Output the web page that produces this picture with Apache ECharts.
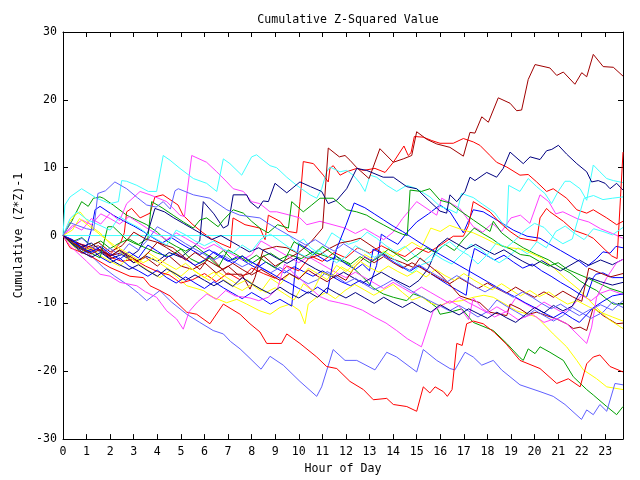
<!DOCTYPE html>
<html>
<head>
<meta charset="utf-8">
<script src="https://cdn.jsdelivr.net/npm/echarts@6/dist/echarts.min.js"></script>
<style>html,body{margin:0;padding:0;background:#fff}#c{width:640px;height:480px}</style>
</head>
<body>
<div id="c"></div>
<script>
// ---- data: [hour, cumulative (Z*Z)-1] ----
var xTickLabels = ['0','1','2','3','4','5','6','7','8','9','10','11','12','13','14','15','16','17','18','19','20','21','22','23'];
var yTickLabels = ['-30','-20','-10','0','10','20','30'];

var red1 = [[0,0],[0.5,-1],[1,-1.5],[1.5,-2.2],[2,-2.8],[2.45,-1],[2.6,0.4],[2.7,3.5],[2.91,4.0],[3.27,2.6],[3.69,3.3],[3.9,5.7],[4.24,6.0],[4.88,4.5],[5.09,3.0],[5.51,1.6],[5.9,0.5],[6.3,-0.5],[6.7,-1.2],[7.1,-1.8],[7.21,2.6],[7.72,1.6],[8.35,1.1],[8.57,-0.6],[8.71,3.0],[9.2,2.1],[9.55,0.6],[9.91,0.4],[10.05,5.0],[10.19,10.9],[10.62,10.6],[11.04,8.9],[11.25,7.9],[11.32,9.9],[11.46,10.3],[11.75,8.9],[12.03,9.4],[12.46,9.9],[12.74,9.6],[13.23,9.9],[13.66,9.3],[14.01,10.8],[14.46,13.2],[14.64,11.8],[14.76,12.2],[14.9,14.6],[15.28,14.5],[15.64,14.0],[15.99,13.6],[16.55,13.6],[16.98,14.3],[17.4,13.8],[17.68,13.3],[18.11,11.8],[18.39,10.8],[18.82,10.1],[19.38,8.9],[19.73,9.0],[20.09,7.9],[20.51,6.5],[20.79,6.9],[21.36,5.5],[21.79,3.8],[22.21,3.3],[22.49,3.8],[23.06,2.6],[23.48,1.6],[23.75,2.1]];
var red2 = [[0,0],[0.5,-1.3],[1,-2.2],[1.5,-2],[2,-3.2],[2.5,-3.8],[3,-3.5],[3.5,-4.5],[4,-5.3],[4.5,-5.8],[5,-7],[5.5,-6.5],[6,-5.6],[6.5,-6.8],[7,-5.5],[7.5,-6.5],[8,-4.8],[8.5,-5.6],[9,-6.3],[9.5,-4.5],[10,-5.2],[10.5,-3],[11,-3.8],[11.5,-2.5],[12,-3.3],[12.5,-1.8],[13,-2.6],[13.5,-1.5],[14,-2.4],[14.5,-3.1],[15,-1.8],[15.5,-2.5],[16.06,-1.3],[16.55,-0.1],[16.98,-0.1],[17.2,1.5],[17.4,5.0],[18.11,3.5],[18.5,2.0],[18.96,0.6],[19.38,-0.4],[20.09,-0.8],[20.23,2.6],[20.51,4.0],[20.65,3.5],[21.22,2.1],[21.64,0.8],[22.21,0.1],[22.49,-0.4],[22.99,-2.1],[23.27,-3.0],[23.5,-3.4],[23.75,12.3]];
var red3 = [[0,0],[0.3,-1.8],[1.15,-3.0],[1.99,-4.7],[2.84,-6.0],[3.41,-6.2],[3.69,-7.4],[4.11,-8.1],[4.54,-8.9],[5.25,-11.3],[5.67,-11.6],[6.23,-13.0],[6.8,-10.1],[7.51,-11.6],[7.93,-13.0],[8.35,-14.2],[8.64,-15.9],[9.27,-15.9],[9.49,-14.5],[10.05,-15.9],[10.76,-17.9],[11.18,-19.3],[11.61,-19.6],[12.17,-21.5],[12.74,-22.7],[13.16,-24.2],[13.73,-24.0],[14.01,-24.9],[14.58,-25.2],[15.0,-25.9],[15.28,-22.3],[15.56,-23.2],[15.78,-22.3],[16.13,-23.0],[16.3,-23.7],[16.5,-22.7],[16.7,-15.9],[16.93,-16.2],[17.12,-13.0],[17.4,-12.6],[17.82,-13.0],[18.3,-14.3],[18.8,-16.0],[19.38,-18.4],[20.23,-19.6],[20.94,-21.8],[21.43,-21.1],[21.93,-22.3],[22.21,-18.9],[22.49,-17.9],[22.77,-17.6],[23.2,-19.3],[23.75,-20.1]];

var green1 = [[0,0],[0.37,2.1],[0.79,5.0],[1.07,4.3],[1.29,5.5],[1.57,5.7],[1.71,5.5],[2.13,4.5],[2.7,3.0],[3.55,1.6],[4.0,0.5],[4.4,-0.8],[4.8,-1.6],[5.2,-2.3],[5.6,-1.5],[6.0,-2.6],[6.4,-3.4],[6.8,-2.2],[7.2,-3.6],[7.6,-3.0],[8.0,-4.1],[8.4,-3.2],[8.8,-2.6],[9.2,-3.5],[9.6,-2.8],[10.1,-3.4],[10.6,-2.4],[11.1,-3.0],[11.6,-3.5],[12.17,-4.3],[12.74,-6.2],[13.15,-7.7],[13.58,-8.6],[14.01,-9.1],[14.58,-9.6],[14.86,-8.6],[15.28,-9.1],[15.85,-10.6],[15.99,-11.6],[16.41,-11.3],[16.91,-10.8],[17.4,-12.8],[18.25,-14.0],[18.82,-15.9],[19.38,-18.0],[19.52,-18.4],[19.73,-16.7],[20.02,-17.4],[20.23,-16.4],[20.65,-17.2],[21.22,-18.4],[21.64,-20.8],[22.21,-22.7],[22.49,-23.5],[23.06,-25.2],[23.48,-26.4],[23.75,-25.2]];
var green2 = [[0,0],[0.4,-0.9],[0.8,-0.3],[1.2,-1.5],[1.6,-0.8],[2.0,-1.9],[2.4,-1.1],[2.8,-0.5],[3.2,-1.3],[3.6,-0.4],[3.76,5.0],[4.2,4.1],[4.67,3.0],[5.1,2.0],[5.53,1.1],[5.81,2.3],[6.09,2.6],[6.58,1.3],[6.8,2.3],[7.22,3.8],[7.65,3.3],[8.0,2.1],[8.35,1.1],[8.7,0.4],[9.1,1.6],[9.56,1.1],[9.7,5.0],[10.19,3.5],[10.55,4.5],[10.9,5.5],[11.46,5.5],[12.03,3.8],[12.45,3.5],[12.88,3.0],[13.2,2.3],[13.58,1.6],[14.0,0.8],[14.4,0.2],[14.6,0.0],[14.72,6.7],[15.2,6.5],[15.56,6.9],[15.99,5.2],[16.41,4.8],[16.7,4.0],[17.4,2.3],[18.11,0.6],[18.25,2.1],[18.6,0.4],[19.05,-0.8],[19.52,-1.8],[20.09,-2.8],[20.6,-3.6],[21.08,-4.7],[21.5,-5.5],[21.93,-6.7],[22.3,-7.5],[22.63,-8.1],[23.0,-9.2],[23.34,-10.1],[23.75,-10.1]];
var green3 = [[0,0],[0.4,-1.2],[0.8,-1.9],[1.2,-2.6],[1.57,-3.3],[1.9,1.3],[2.13,1.3],[2.7,-0.6],[3.0,-1.1],[3.5,-1.8],[4.0,-2.6],[4.5,-3.1],[5.0,-2.0],[5.4,-3.4],[5.8,-4.1],[6.2,-3.3],[6.6,-4.6],[7.0,-2.1],[7.4,-2.9],[7.8,-3.8],[8.2,-2.9],[8.6,-3.9],[9.0,-4.8],[9.4,-3.6],[9.8,-0.9],[10.2,-1.8],[10.6,-2.9],[11.0,-1.6],[11.4,-2.6],[11.8,-3.5],[12.2,-4.2],[12.6,-3.1],[13.0,-4.0],[13.4,-3.2],[13.8,-2.0],[14.2,-2.9],[14.6,-3.8],[15.0,-2.9],[15.4,-1.8],[15.8,-2.5],[16.2,-1.3],[16.6,-2.2],[17.0,-0.5],[17.44,1.1],[17.8,0.3],[18.2,-0.5],[18.6,-1.5],[19.0,-2.0],[19.4,-2.8],[19.8,-3.0],[20.2,-3.8],[20.6,-4.5],[21.0,-4.0],[21.4,-5.0],[21.8,-5.6],[22.2,-6.2],[22.7,-7.0],[23.2,-7.8],[23.75,-8.4]];

var blue1 = [[0,0],[0.5,-1.0],[1.0,-1.6],[1.2,0.8],[1.36,3.8],[1.57,4.3],[2.13,3.0],[2.6,2.1],[3.0,1.4],[3.4,0.6],[3.8,-0.3],[4.2,-1.1],[4.6,-0.3],[5.0,-1.2],[5.4,-2.0],[5.8,-2.8],[6.2,-2.1],[6.6,-3.0],[7.0,-3.8],[7.4,-3.1],[7.8,-4.0],[8.2,-4.8],[8.6,-3.9],[9.0,-4.7],[9.4,-5.5],[9.8,-4.6],[10.2,-5.3],[10.6,-6.0],[11.0,-5.2],[11.4,-6.0],[11.8,-6.8],[12.2,-7.4],[12.6,-6.6],[13.0,-7.4],[13.3,-4.4],[13.5,0.2],[13.8,-0.5],[14.2,-1.3],[14.6,0.5],[15.0,2.0],[15.5,3.2],[15.99,4.5],[16.41,3.5],[16.98,0.4],[17.4,3.8],[17.82,3.5],[18.25,2.6],[19.1,0.8],[19.68,-0.1],[20.23,-0.4],[20.65,-1.3],[21.1,-2.2],[21.5,-3.0],[21.9,-3.8],[22.2,-4.6],[22.6,-3.5],[22.9,-2.4],[23.2,-2.6],[23.45,-1.6],[23.75,-1.8]];
var blue2 = [[0,0],[0.4,-1.4],[0.8,-2.6],[1.2,-2.0],[1.6,-3.2],[2.0,-4.0],[2.4,-3.3],[2.8,-4.5],[3.2,-5.2],[3.6,-6.0],[4.0,-5.1],[4.4,-6.2],[4.8,-7.0],[5.2,-6.1],[5.6,-7.0],[6.0,-7.8],[6.4,-6.8],[6.8,-7.7],[7.2,-8.5],[7.6,-9.3],[8.0,-8.4],[8.4,-9.2],[8.8,-10.1],[9.2,-9.4],[9.7,-10.4],[9.85,-5.0],[10.0,-1.2],[10.4,-2.0],[10.8,-3.0],[11.2,-3.8],[11.6,-3.1],[12.0,-4.2],[12.4,-5.0],[12.7,-4.2],[13.0,-5.2],[13.15,-2.0],[13.5,-2.6],[13.9,-3.6],[14.3,-4.5],[14.7,-5.3],[15.1,-4.4],[15.5,-5.4],[15.9,-6.3],[16.3,-7.2],[16.7,-8.0],[17.1,-8.8],[17.25,-4.8],[17.45,-1.9],[17.9,-2.8],[18.3,-3.6],[18.7,-2.9],[19.1,-3.9],[19.5,-4.8],[19.9,-4.2],[20.3,-5.2],[20.7,-6.0],[21.1,-6.9],[21.5,-7.7],[21.9,-8.6],[22.2,-9.1],[22.49,-6.2],[22.6,-5.7],[22.9,-5.5],[23.3,-6.2],[23.75,-6.2]];
var blue3 = [[0,0],[0.4,-0.6],[0.8,-1.8],[1.2,-2.5],[1.6,-1.6],[2.0,-2.7],[2.4,-3.5],[2.8,-2.4],[3.2,-3.3],[3.6,-1.4],[4.0,-2.3],[4.4,-3.2],[4.8,-2.6],[5.2,-3.5],[5.6,-4.4],[6.0,-3.6],[6.4,-2.4],[6.8,-3.2],[7.2,-4.1],[7.6,-3.0],[8.0,-3.9],[8.4,-4.7],[8.8,-5.5],[9.2,-6.3],[9.6,-7.0],[10.0,-7.8],[10.4,-8.5],[10.8,-7.6],[11.2,-8.5],[11.45,-4.0],[11.6,-2.0],[12.0,1.5],[12.35,4.8],[12.8,4.1],[13.2,3.2],[13.6,2.3],[14.0,1.4],[14.4,0.6],[14.8,-0.3],[15.2,-1.2],[15.6,-2.0],[16.0,-2.8],[16.4,-3.6],[16.8,-4.4],[17.2,-5.2],[17.6,-6.0],[18.0,-6.8],[18.4,-7.6],[18.8,-8.4],[19.2,-9.1],[19.6,-9.9],[20.0,-10.6],[20.4,-11.4],[20.8,-12.1],[21.2,-11.3],[21.6,-12.2],[21.9,-12.8],[22.2,-11.7],[22.5,-10.6],[22.9,-9.7],[23.3,-8.9],[23.75,-8.6]];

var magenta1 = [[0,0],[0.4,1.5],[0.8,0.8],[1.2,2.5],[1.6,1.7],[2.0,3.3],[2.4,2.2],[2.7,4.7],[3.27,6.5],[3.69,6.0],[4.4,5.0],[4.96,3.0],[5.15,2.8],[5.25,6.0],[5.46,11.8],[6.09,10.8],[6.52,9.4],[6.95,7.9],[7.22,6.9],[7.65,6.5],[8.0,5.0],[8.35,4.7],[8.78,3.5],[9.06,3.5],[9.63,3.0],[10.05,2.6],[10.34,1.6],[10.9,2.1],[11.96,1.1],[12.4,0.3],[12.8,1.0],[13.2,0.2],[13.6,-0.6],[14.0,0.5],[14.4,2.5],[15.0,5.0],[15.85,3.0],[16.06,5.5],[16.83,4.0],[17.4,1.3],[17.8,0.5],[18.2,1.8],[18.6,0.6],[19.0,2.6],[19.4,3.0],[19.8,1.8],[20.23,6.0],[20.6,5.0],[20.9,3.2],[21.2,3.5],[21.8,2.5],[22.3,2.0],[22.8,1.0],[23.3,0.3],[23.75,-0.4]];
var magenta2 = [[0,0],[0.4,1.2],[0.8,2.3],[1.2,1.6],[1.6,3.2],[2.0,2.5],[2.4,1.7],[2.8,2.8],[3.2,1.9],[3.6,1.0],[4.0,0.2],[4.4,-0.6],[4.8,0.4],[5.2,-0.4],[5.6,-1.2],[6.0,-2.0],[6.4,-1.3],[6.8,-2.1],[7.2,-2.8],[7.6,-3.6],[8.0,-2.8],[8.4,-0.8],[8.8,-1.6],[9.2,-2.4],[9.6,-3.2],[10.0,-4.0],[10.4,-3.1],[10.8,-3.9],[11.2,-4.7],[11.6,-5.5],[12.0,-6.2],[12.4,-5.4],[12.8,-6.2],[13.2,-7.0],[13.6,-7.8],[14.0,-6.9],[14.4,-7.7],[14.8,-8.5],[15.2,-7.6],[15.6,-8.4],[16.0,-9.2],[16.4,-10.0],[16.8,-9.1],[17.2,-9.9],[17.6,-10.6],[18.0,-11.4],[18.4,-10.5],[18.8,-11.3],[19.2,-9.2],[19.6,-10.0],[20.0,-10.8],[20.4,-9.8],[20.8,-10.6],[21.2,-11.4],[21.6,-10.4],[22.0,-8.8],[22.4,-9.6],[22.8,-8.5],[23.2,-8.0],[23.75,-8.7]];
var magenta3 = [[0,0],[0.3,-1.5],[0.6,-2.5],[1.0,-3.8],[1.57,-5.7],[2.0,-6.0],[2.42,-6.9],[3.13,-7.4],[3.5,-8.3],[3.97,-9.1],[4.4,-11.1],[4.82,-12.3],[5.1,-13.8],[5.35,-11.2],[5.7,-9.8],[6.1,-8.6],[6.5,-9.4],[6.9,-8.1],[7.3,-8.9],[7.93,-9.2],[8.3,-9.6],[8.7,-9.1],[9.1,-7.8],[9.4,-4.2],[9.7,-5.3],[10.1,-6.5],[10.5,-7.8],[10.9,-9.0],[11.3,-9.6],[11.7,-9.9],[12.17,-10.3],[12.7,-11.0],[13.2,-12.0],[13.7,-12.9],[14.15,-14.0],[14.6,-15.2],[15.0,-16.0],[15.2,-16.4],[15.7,-11.1],[16.41,-9.6],[16.8,-10.4],[17.2,-12.4],[17.4,-9.2],[17.8,-10.8],[18.3,-12.0],[18.8,-11.2],[19.3,-12.4],[19.9,-11.6],[20.4,-12.8],[20.9,-12.2],[21.36,-13.0],[21.8,-14.5],[22.21,-15.9],[22.42,-13.5],[22.63,-9.1],[23.06,-6.2],[23.48,-4.0],[23.75,-3.5]];

var cyan1 = [[0,0],[0.08,4.5],[0.3,5.7],[0.79,6.9],[1.43,5.5],[1.99,4.7],[2.35,5.0],[2.49,8.1],[2.7,8.0],[3.13,7.4],[3.62,6.5],[3.97,6.5],[4.25,11.8],[4.54,11.1],[4.96,9.9],[5.53,8.4],[6.09,7.7],[6.52,6.5],[6.8,11.3],[7.08,10.6],[7.58,8.9],[8.0,11.6],[8.21,11.9],[8.49,11.1],[8.78,10.3],[9.06,10.0],[9.49,8.6],[9.91,7.4],[10.48,6.0],[10.76,5.5],[10.97,6.9],[11.18,9.4],[11.32,10.1],[11.75,9.4],[12.03,9.6],[12.31,8.9],[12.6,7.7],[12.81,6.5],[13.02,8.9],[13.3,8.6],[13.73,7.4],[14.15,6.5],[14.58,7.4],[15.0,6.9],[15.56,5.7],[15.99,4.3],[16.41,3.8],[16.7,3.3],[16.9,6.2],[17.4,5.6],[17.8,4.6],[18.3,3.4],[18.6,2.0],[18.82,1.1],[18.9,7.4],[19.38,6.5],[19.73,8.4],[20.09,7.2],[20.44,6.2],[20.72,4.7],[21.0,6.5],[21.29,8.0],[21.5,8.0],[21.93,6.9],[22.21,5.2],[22.49,10.4],[22.77,9.4],[23.06,8.4],[23.34,8.1],[23.75,7.8]];
var cyan2 = [[0,0],[9.6,0],[9.9,-1.2],[10.2,-0.5],[10.5,-1.8],[10.8,-2.5],[11.1,-1.5],[11.4,0.4],[11.7,-0.3],[12.1,-1.3],[12.5,-0.8],[12.9,0.5],[13.3,-0.4],[13.7,-1.5],[14.1,-2.4],[14.5,-1.6],[14.9,-2.9],[15.3,-3.8],[15.7,-2.6],[16.1,-3.5],[16.5,-4.2],[16.9,-2.8],[17.3,-1.3],[17.7,-2.0],[18.1,-3.2],[18.5,-4.0],[18.9,-3.1],[19.3,-1.8],[19.7,-2.7],[20.1,-0.9],[20.5,-1.8],[20.9,0.6],[21.3,1.4],[21.7,0.3],[22.1,-0.6],[22.5,1.0],[22.9,0.6],[23.3,0.1],[23.75,1.2]];
var cyan3 = [[0,0],[0.3,2.5],[0.6,3.5],[1,2.4],[1.5,1.6],[2,0.8],[2.4,2.8],[2.8,1.9],[3.2,1.2],[3.6,0.2],[4.0,-0.6],[4.4,-1.4],[4.8,0.8],[5.2,0.1],[5.6,-0.8],[6.0,-1.5],[6.4,-0.8],[6.8,-2.0],[7.2,-2.6],[7.6,-1.4],[8.0,-2.3],[8.4,-0.5],[8.8,0.2],[9.2,-0.8],[9.6,-1.8],[10.0,-2.6],[10.4,-3.3],[10.8,-2.1],[11.2,-3.0],[11.6,-4.0],[12.0,-3.1],[12.4,-1.5],[12.8,-2.3],[13.2,-3.2],[13.6,-2.5],[14.0,-3.4],[14.4,-4.5],[14.8,-5.5],[15.2,-4.3],[15.6,-3.8],[16.0,-1.8],[16.4,-0.9],[16.8,-2.1],[17.2,-2.9],[17.6,-4.2],[18.0,-2.8],[18.4,-1.0],[18.8,-1.8],[19.2,-0.6],[19.6,0.8],[20.0,1.8],[20.4,1.2],[20.8,-0.3],[21.2,-1.2],[21.6,-0.5],[22.1,5.5],[22.5,5.9],[22.9,5.3],[23.3,5.5],[23.75,5.7]];

var darkred1 = [[0,0],[0.5,-1.2],[1,-2],[1.5,-1.5],[2,-3],[2.5,-2.5],[3,-4],[3.5,-3.2],[4,-4.5],[4.5,-3],[5,-4.5],[5.5,-5],[6,-4],[6.5,-5.5],[7,-4.5],[7.5,-6],[8,-5.5],[8.5,-3],[9,-4.5],[9.5,-3.5],[10,-2.5],[10.5,-1],[11.01,1.1],[11.25,12.9],[11.72,11.6],[11.96,11.8],[12.17,11.1],[12.46,10.0],[12.98,8.4],[13.44,12.8],[14.01,10.8],[14.43,11.3],[14.79,11.8],[15.0,15.3],[15.42,14.2],[15.85,13.5],[16.41,13.0],[16.98,11.7],[17.26,15.2],[17.47,15.1],[17.76,17.5],[18.04,16.7],[18.46,20.3],[18.96,19.5],[19.24,18.4],[19.45,18.5],[19.73,23.0],[20.02,25.2],[20.65,24.7],[20.94,23.6],[21.22,24.1],[21.71,22.3],[22.0,24.0],[22.21,23.4],[22.49,26.7],[22.91,24.9],[23.34,24.8],[23.75,23.5]];
var darkred2 = [[0,0],[0.5,-0.8],[1,-1.8],[1.5,-1],[2,-2.4],[2.5,-1.5],[3,0.5],[3.5,-0.5],[4,-1],[4.66,-1.8],[5.25,-3.5],[5.81,-5.0],[6.23,-3.0],[6.94,-5.7],[7.58,-5.7],[7.93,-7.9],[8.14,-6.2],[8.49,-2.1],[9.06,-1.6],[9.49,-1.8],[9.9,-2.5],[10.4,-3.4],[10.9,-2.8],[11.3,-1.9],[11.75,-1.1],[12.2,-0.8],[12.6,-0.4],[13.2,-1.8],[13.87,-3.3],[14.4,-4.0],[14.86,-4.7],[15.14,-3.3],[15.6,-4.6],[15.99,-5.7],[16.4,-7.2],[16.83,-8.9],[17.25,-9.4],[17.68,-9.9],[18.11,-11.3],[18.82,-11.8],[18.96,-10.1],[19.38,-10.8],[19.73,-11.6],[20.09,-11.3],[20.51,-11.8],[20.94,-12.3],[21.36,-13.0],[21.64,-13.7],[21.93,-13.5],[22.21,-14.0],[22.49,-10.6],[22.91,-11.8],[23.48,-13.0],[23.75,-12.9]];
var darkred3 = [[0,0],[0.4,-1.0],[0.8,-2.0],[1.2,-2.7],[1.6,-2.0],[2.0,-3.1],[2.4,-2.1],[2.8,-3.0],[3.2,-3.8],[3.6,-2.6],[4.0,-1.0],[4.4,-1.8],[4.8,-2.7],[5.2,-3.6],[5.6,-2.5],[6.0,-3.4],[6.4,-4.2],[6.8,-5.0],[7.2,-4.1],[7.6,-5.0],[8.0,-5.8],[8.4,-5.0],[8.8,-5.8],[9.2,-6.6],[9.6,-5.6],[10.0,-6.4],[10.4,-5.1],[10.8,-6.0],[11.2,-6.8],[11.6,-5.8],[12.0,-6.6],[12.4,-4.5],[12.8,-3.2],[13.2,-4.0],[13.6,-3.1],[14.0,-4.0],[14.4,-4.8],[14.8,-4.0],[15.2,-4.8],[15.6,-5.6],[16.0,-6.4],[16.4,-7.1],[16.8,-6.2],[17.2,-7.0],[17.6,-7.8],[18.0,-7.0],[18.4,-7.8],[18.8,-8.5],[19.2,-7.6],[19.6,-8.4],[20.0,-9.1],[20.4,-8.3],[20.8,-9.1],[21.2,-8.2],[21.6,-9.0],[22.0,-9.7],[22.3,-4.8],[22.7,-5.4],[23.2,-6.1],[23.75,-5.6]];

var yellow1 = [[0,0],[0.3,2.1],[0.51,3.0],[0.72,3.5],[1.0,2.3],[1.29,1.1],[1.57,0.4],[2.0,-1.2],[2.4,-2.4],[2.84,-3.3],[3.55,-5.0],[4.11,-6.2],[4.54,-5.2],[5.25,-7.4],[5.95,-8.1],[6.37,-9.1],[6.94,-9.9],[7.37,-9.4],[7.79,-10.1],[8.35,-11.1],[8.78,-11.6],[9.2,-10.6],[9.63,-10.1],[10.05,-11.1],[10.26,-13.0],[10.4,-10.1],[10.76,-9.1],[11.15,-8.4],[11.55,-9.3],[11.96,-8.1],[12.37,-7.2],[12.78,-8.0],[13.18,-8.8],[13.59,-8.0],[14.0,-7.2],[14.4,-8.4],[14.8,-9.5],[15.2,-9.0],[15.6,-10.0],[15.99,-10.3],[16.4,-9.8],[16.9,-9.6],[17.4,-9.1],[17.85,-8.8],[18.25,-9.1],[19.24,-11.1],[20.09,-12.0],[20.79,-14.5],[21.36,-16.4],[21.79,-18.4],[22.07,-19.8],[22.63,-21.1],[23.06,-22.3],[23.75,-22.7]];
var yellow2 = [[0,0],[0.4,-1.5],[0.8,-2.4],[1.2,-1.8],[1.6,-3.0],[2.0,-3.8],[2.4,-4.5],[2.8,-3.2],[3.2,-4.1],[3.6,-2.5],[4.0,-3.4],[4.4,-4.2],[4.8,-5.0],[5.2,-4.1],[5.6,-5.3],[6.0,-6.2],[6.4,-5.4],[6.8,-6.5],[7.2,-7.4],[7.6,-8.1],[8.0,-7.2],[8.4,-8.2],[8.8,-6.3],[9.2,-7.2],[9.6,-5.6],[10.0,-6.5],[10.4,-4.8],[10.8,-5.6],[11.2,-6.5],[11.6,-4.4],[12.0,-5.3],[12.4,-4.1],[12.8,-2.8],[13.2,-3.6],[13.6,-2.3],[14.0,-3.1],[14.4,-2.0],[14.8,-1.0],[15.2,-1.8],[15.6,1.1],[16.0,0.6],[16.4,1.5],[16.9,0.9],[17.4,0.4],[17.9,-0.4],[18.4,-1.3],[18.95,-1.8],[19.45,-2.0],[19.85,-2.6],[20.3,-3.3],[20.79,-4.7],[21.3,-6.3],[21.93,-8.1],[22.3,-9.5],[22.77,-11.1],[23.2,-12.5],[23.75,-13.7]];
var yellow3 = [[0,0],[0.4,0.8],[0.7,2.5],[1.0,1.7],[1.4,0.6],[1.8,-0.5],[2.2,-1.5],[2.6,-2.3],[3.0,-3.2],[3.4,-4.0],[3.8,-3.3],[4.2,-4.3],[4.6,-5.2],[5.0,-6.0],[5.4,-4.8],[5.8,-5.7],[6.2,-6.6],[6.6,-5.4],[7.0,-6.3],[7.4,-7.2],[7.8,-6.5],[8.2,-7.5],[8.6,-8.4],[9.0,-7.7],[9.4,-8.6],[9.8,-9.5],[10.2,-7.1],[10.6,-8.2],[11.0,-5.4],[11.4,-6.0],[11.8,-4.6],[12.2,-5.4],[12.6,-3.8],[13.0,-4.7],[13.4,-5.4],[13.8,-4.5],[14.2,-5.3],[14.6,-6.0],[15.0,-5.2],[15.4,-6.1],[15.8,-5.0],[16.2,-5.9],[16.6,-6.6],[17.0,-5.6],[17.4,-6.5],[17.8,-7.3],[18.2,-8.0],[18.6,-7.1],[19.0,-8.0],[19.4,-8.9],[19.8,-8.1],[20.2,-9.0],[20.6,-8.3],[21.0,-9.3],[21.4,-10.1],[21.8,-9.6],[22.3,-10.5],[22.8,-11.3],[23.3,-12.0],[23.75,-12.6]];

var navy1 = [[0,0],[0.5,-1.5],[1,-2.5],[1.5,-2],[2,-3.4],[2.5,-2.8],[3,-4],[3.5,-3],[4,-3.8],[4.5,-2.5],[5,-3.2],[5.5,-1.8],[5.8,-0.8],[5.95,5.0],[6.4,3.2],[6.8,1.1],[7.0,1.5],[7.22,6.0],[7.79,6.0],[7.93,5.0],[8.28,4.0],[8.49,5.1],[8.71,5.0],[8.99,7.7],[9.49,6.3],[10.05,7.9],[10.5,7.2],[10.97,6.5],[11.25,4.7],[11.61,5.2],[12.03,6.9],[12.46,9.9],[12.88,9.6],[13.58,8.6],[14.01,8.6],[14.58,7.2],[15.0,6.9],[15.56,5.0],[15.99,3.6],[16.27,3.3],[16.41,6.0],[16.7,5.0],[17.05,6.5],[17.26,8.6],[17.47,8.1],[17.97,9.3],[18.39,8.6],[18.67,9.9],[18.96,12.3],[19.52,10.6],[19.81,11.6],[20.23,11.2],[20.51,12.5],[20.73,12.7],[21.01,13.3],[21.36,12.0],[21.79,10.6],[22.21,9.4],[22.42,7.9],[22.7,8.1],[22.99,7.7],[23.2,6.9],[23.48,7.7],[23.75,6.7]];
var navy2 = [[0,0],[0.4,-0.8],[0.8,-1.7],[1.2,-1.1],[1.6,-2.2],[2.0,-3.0],[2.4,-2.2],[2.8,-3.2],[3.2,-2.2],[3.6,0.5],[3.9,4.0],[4.3,3.5],[4.7,2.6],[5.1,1.8],[5.5,1.0],[5.9,0.2],[6.3,-0.6],[6.7,0.0],[7.1,-0.8],[7.5,-1.6],[7.9,-2.4],[8.3,-1.8],[8.7,-2.6],[9.1,-3.4],[9.5,-4.1],[9.9,-3.3],[10.3,-4.1],[10.7,-4.9],[11.1,-5.6],[11.5,-6.2],[11.9,-5.4],[12.3,-6.2],[12.7,-7.0],[13.1,-6.2],[13.5,-5.4],[13.9,-6.2],[14.3,-6.9],[14.7,-7.6],[15.1,-6.6],[15.5,-4.8],[15.9,-1.5],[16.3,-0.4],[16.7,-1.2],[17.1,-2.0],[17.5,-1.3],[17.9,-2.1],[18.3,-2.8],[18.7,-2.1],[19.1,-3.0],[19.5,-3.8],[19.9,-4.5],[20.3,-3.7],[20.7,-4.5],[21.1,-5.2],[21.5,-4.4],[21.9,-3.6],[22.3,-4.4],[22.8,-3.6],[23.3,-4.3],[23.75,-3.5]];
var navy3 = [[0,0],[0.4,-1.3],[0.8,-2.4],[1.2,-3.2],[1.6,-2.5],[2.0,-3.5],[2.4,-4.3],[2.8,-5.0],[3.2,-4.3],[3.6,-5.2],[4.0,-6.0],[4.4,-4.9],[4.8,-5.7],[5.2,-6.6],[5.6,-5.8],[6.0,-6.6],[6.4,-7.4],[6.8,-6.6],[7.2,-7.5],[7.6,-6.2],[8.0,-7.1],[8.4,-7.9],[8.8,-8.6],[9.2,-7.6],[9.6,-8.5],[10.0,-9.2],[10.4,-8.3],[10.8,-9.1],[11.2,-7.7],[11.6,-8.5],[12.0,-9.2],[12.4,-8.4],[12.8,-9.2],[13.2,-10.0],[13.6,-9.1],[14.0,-9.9],[14.4,-10.6],[14.8,-9.8],[15.2,-10.6],[15.6,-11.3],[16.0,-10.2],[16.4,-11.0],[16.8,-11.7],[17.2,-10.8],[17.6,-11.5],[18.0,-12.2],[18.4,-11.3],[18.8,-12.1],[19.2,-12.8],[19.6,-11.7],[20.0,-10.6],[20.4,-11.4],[20.8,-10.3],[21.2,-11.1],[21.6,-10.4],[22.0,-7.9],[22.3,-6.2],[22.8,-6.8],[23.3,-7.3],[23.75,-6.9]];

var slate1 = [[0,0],[0.4,-1.0],[0.8,-2.0],[1.2,-3.0],[1.71,-4.7],[2.2,-6.0],[2.8,-7.4],[3.2,-8.5],[3.55,-9.6],[4.11,-8.1],[4.6,-9.8],[5.25,-11.6],[5.8,-12.8],[6.37,-14.0],[6.8,-14.5],[7.1,-15.6],[7.51,-16.7],[7.93,-18.1],[8.4,-19.7],[8.78,-17.8],[9.34,-19.1],[10.05,-21.5],[10.76,-23.7],[10.97,-22.3],[11.46,-16.8],[11.96,-18.4],[12.46,-18.4],[13.23,-19.8],[13.73,-17.2],[14.15,-17.9],[15.0,-20.1],[15.28,-16.8],[15.85,-18.4],[16.41,-19.6],[16.62,-19.8],[17.05,-17.2],[17.4,-17.9],[17.76,-19.1],[18.25,-18.4],[18.6,-19.8],[19.38,-22.0],[20.23,-23.0],[20.79,-23.7],[21.29,-24.9],[21.99,-27.1],[22.21,-25.7],[22.49,-26.4],[22.77,-24.9],[23.06,-25.9],[23.41,-21.8],[23.75,-22.0]];
var slate2 = [[0,0],[0.4,-1.1],[0.8,-0.4],[1.2,-1.6],[1.6,-2.5],[2.0,-1.9],[2.4,-2.9],[2.8,-1.2],[3.2,-2.1],[3.6,-0.6],[4.0,1.3],[4.4,0.5],[4.8,-0.3],[5.2,-1.2],[5.6,-2.0],[6.0,-2.8],[6.4,-3.6],[6.8,-2.9],[7.2,-3.8],[7.6,-4.6],[8.0,-3.9],[8.4,-4.8],[8.8,-5.5],[9.2,-4.7],[9.6,-5.6],[10.0,-6.3],[10.4,-7.1],[10.8,-6.5],[11.2,-5.3],[11.6,-6.1],[12.0,-7.0],[12.4,-6.3],[12.8,-7.2],[13.2,-8.0],[13.6,-7.3],[14.0,-6.5],[14.4,-7.4],[14.8,-8.2],[15.2,-9.0],[15.6,-9.7],[16.0,-10.4],[16.4,-11.1],[16.8,-10.3],[17.2,-11.1],[17.6,-12.0],[18.0,-11.2],[18.4,-9.5],[18.8,-10.4],[19.2,-11.2],[19.6,-12.0],[20.0,-11.0],[20.4,-11.8],[20.8,-12.6],[21.2,-11.8],[21.6,-10.6],[22.0,-11.4],[22.4,-12.2],[22.9,-11.3],[23.3,-9.8],[23.75,-10.6]];
var slate3 = [[0,0],[0.3,1.9],[0.6,1.5],[1.0,1.0],[1.3,0.8],[1.48,6.2],[1.8,6.6],[2.2,7.9],[2.7,6.9],[3.15,5.6],[3.55,4.5],[3.95,4.2],[4.25,5.0],[4.55,3.9],[4.75,6.6],[4.89,6.9],[5.53,6.0],[6.23,5.5],[6.95,3.8],[7.5,3.0],[8.35,2.6],[8.7,1.8],[9.1,1.0],[9.5,0.2],[9.9,-0.6],[10.3,-1.4],[10.7,-0.6],[11.1,-1.5],[11.5,-2.3],[11.9,-1.2],[12.3,-2.1],[12.7,-2.9],[13.1,-3.7],[13.5,-2.8],[13.9,-3.7],[14.3,-4.4],[14.7,-5.1],[15.1,-4.3],[15.5,-5.2],[15.9,-6.0],[16.3,-6.8],[16.7,-5.9],[17.1,-6.7],[17.5,-7.6],[17.9,-8.3],[18.3,-7.5],[18.7,-8.3],[19.1,-9.1],[19.5,-8.3],[19.9,-9.1],[20.3,-10.0],[20.7,-10.8],[21.1,-10.1],[21.5,-11.0],[21.9,-11.8],[22.3,-11.0],[22.8,-10.2],[23.3,-11.0],[23.75,-9.6]];

var seriesList = [
  {d: red1, c: '#ff0000'}, {d: green1, c: '#00a000'}, {d: blue1, c: '#0000ff'},
  {d: magenta1, c: '#ff40ff'}, {d: cyan1, c: '#40ffff'}, {d: darkred1, c: '#a00000'},
  {d: yellow1, c: '#ffff00'}, {d: navy1, c: '#000080'}, {d: slate1, c: '#6060ff'},
  {d: red2, c: '#ff0000'}, {d: green2, c: '#00a000'}, {d: blue2, c: '#0000ff'},
  {d: magenta2, c: '#ff40ff'}, {d: cyan2, c: '#40ffff'}, {d: darkred2, c: '#a00000'},
  {d: yellow2, c: '#ffff00'}, {d: navy2, c: '#000080'}, {d: slate2, c: '#6060ff'},
  {d: red3, c: '#ff0000'}, {d: green3, c: '#00a000'}, {d: blue3, c: '#0000ff'},
  {d: magenta3, c: '#ff40ff'}, {d: cyan3, c: '#40ffff'}, {d: darkred3, c: '#a00000'},
  {d: yellow3, c: '#ffff00'}, {d: navy3, c: '#000080'}, {d: slate3, c: '#6060ff'}
];

var FONT = 'DejaVu Sans Mono';
var chart = echarts.init(document.getElementById('c'), null, {renderer: 'canvas'});
function xLab(v) { var i = Math.round(v); return (Math.abs(v - i) < 1e-6 && xTickLabels[i] !== undefined) ? xTickLabels[i] : ''; }
function yLab(v) { var i = Math.round((v + 30) / 10); return (Math.abs(v - (i * 10 - 30)) < 1e-6 && yTickLabels[i] !== undefined) ? yTickLabels[i] : ''; }
function axisCommon() {
  return {
    axisLine: {show: true, onZero: false, lineStyle: {color: '#000', width: 1}},
    axisTick: {show: true, inside: true, length: 5, lineStyle: {color: '#000'}},
    splitLine: {show: false}
  };
}
chart.setOption({
  animation: false,
  backgroundColor: '#fff',
  textStyle: {fontFamily: FONT},
  title: {
    text: 'Cumulative Z-Squared Value', left: 343, top: 9, textAlign: 'center',
    textStyle: {fontFamily: FONT, fontSize: 11.6, fontWeight: 'normal', color: '#000'}
  },
  grid: {left: 63, right: 17, top: 32, bottom: 37, containLabel: false},
  xAxis: [
    Object.assign({type: 'value', position: 'bottom', min: 0, max: 23.75, interval: 1,
      name: 'Hour of Day', nameLocation: 'middle', nameGap: 22,
      nameTextStyle: {fontFamily: FONT, fontSize: 11.6, color: '#000'},
      axisLabel: {show: true, margin: 7, formatter: xLab, fontFamily: FONT, fontSize: 11.6, color: '#000'}}, axisCommon()),
    Object.assign({type: 'value', position: 'top', min: 0, max: 23.75, interval: 1,
      axisLabel: {show: false}}, axisCommon())
  ],
  yAxis: [
    Object.assign({type: 'value', position: 'left', min: -30, max: 30, interval: 10,
      name: 'Cumulative (Z*Z)-1', nameLocation: 'middle', nameGap: 29, nameRotate: 90,
      nameTextStyle: {fontFamily: FONT, fontSize: 11.6, color: '#000'},
      axisLabel: {show: true, margin: 6, formatter: yLab, fontFamily: FONT, fontSize: 11.6, color: '#000'}}, axisCommon()),
    Object.assign({type: 'value', position: 'right', min: -30, max: 30, interval: 10,
      axisLabel: {show: false}}, axisCommon())
  ],
  series: seriesList.map(function (s) {
    return {type: 'line', data: s.d, xAxisIndex: 0, yAxisIndex: 0, symbol: 'none', silent: true,
      lineStyle: {color: s.c, width: 1}, itemStyle: {color: s.c}, clip: true};
  })
});
</script>
</body>
</html>
